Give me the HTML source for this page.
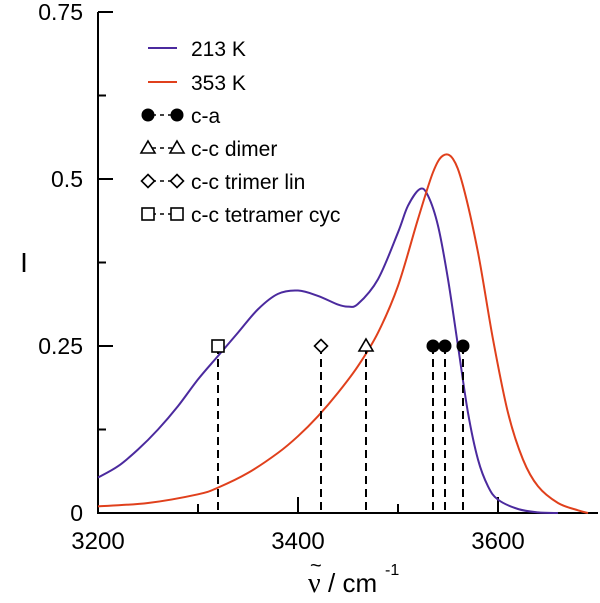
<!DOCTYPE html>
<html><head><meta charset="utf-8"><style>
html,body{margin:0;padding:0;background:#fff;}
svg{display:block;font-family:"Liberation Sans",sans-serif;}
</style></head><body>
<svg id="c" width="600" height="603"></svg>
<script>
const purpleX=[3200,3220,3240,3260,3280,3300,3320,3340,3360,3380,3400,3420,3440,3450,3460,3480,3500,3510,3522,3530,3540,3550,3560,3570,3580,3590,3600,3620,3640,3660];
const purpleY=[.053,.07,.095,.125,.16,.2,.235,.27,.305,.328,.333,.325,.312,.309,.313,.35,.42,.46,.485,.475,.43,.35,.25,.15,.08,.04,.02,.006,.001,0];
const redX=[3200,3250,3300,3320,3350,3380,3400,3420,3440,3460,3480,3500,3520,3535,3545,3555,3565,3580,3595,3610,3625,3640,3660,3680,3690];
const redY=[.01,.015,.028,.038,.06,.09,.115,.145,.18,.22,.27,.34,.44,.51,.535,.53,.49,.39,.26,.15,.08,.04,.015,.004,0];
const stickX=[3320,3423,3468,3535,3547,3565];
const stickType=['square','diamond','triangle','circle','circle','circle'];
const stickY=[0.25,0.25,0.25,0.25,0.25,0.25];
const xTicks=[3200,3400,3600];
const xMinor=[3300,3500];
const yTicks=[0,0.25,0.5,0.75];
const yTickLabels=['0','0.25','0.5','0.75'];
const yMinor=[0.125,0.375,0.625];

const NS='http://www.w3.org/2000/svg';
const svg=document.getElementById('c');
const X0=98,X1=598,Y0=513,Y1=12;
const sx=v=>X0+(v-3200)/(3700-3200)*(X1-X0);
const sy=v=>Y0-(v/0.75)*(Y0-Y1);
function el(t,a,p){const e=document.createElementNS(NS,t);for(const k in a)e.setAttribute(k,a[k]);(p||svg).appendChild(e);return e;}

function smooth(xs,ys){const p=xs.map((x,i)=>[sx(x),sy(ys[i])]);let d='M'+p[0][0]+','+p[0][1];
for(let i=0;i<p.length-1;i++){const p0=p[i-1]||p[i],p1=p[i],p2=p[i+1],p3=p[i+2]||p2;
d+=` C${p1[0]+(p2[0]-p0[0])/6},${p1[1]+(p2[1]-p0[1])/6} ${p2[0]-(p3[0]-p1[0])/6},${p2[1]-(p3[1]-p1[1])/6} ${p2[0]},${p2[1]}`;}return d;}

let a=el('path',{d:`M${X0},${Y1} V${Y0} H${X1}`,stroke:'#000','stroke-width':2,fill:'none'});

xTicks.forEach(v=>{let t=el('line',{x1:sx(v),x2:sx(v),y1:Y0,y2:Y0-16,stroke:'#000','stroke-width':2});

let l=el('text',{x:sx(v),y:Y0+36,'font-size':24,'text-anchor':'middle'});l.textContent=v;
});
xMinor.forEach(v=>{let t=el('line',{x1:sx(v),x2:sx(v),y1:Y0,y2:Y0-9,stroke:'#000','stroke-width':2});
});
yTicks.forEach((v,i)=>{let t=el('line',{x1:X0,x2:X0+15,y1:sy(v),y2:sy(v),stroke:'#000','stroke-width':2});

let l=el('text',{x:83,y:sy(v)+8,'font-size':23,'text-anchor':'end'});l.textContent=yTickLabels[i];
});
yMinor.forEach(v=>{let t=el('line',{x1:X0,x2:X0+8,y1:sy(v),y2:sy(v),stroke:'#000','stroke-width':2});
});

let pc=el('path',{d:smooth(purpleX,purpleY),stroke:'#4b2a9e','stroke-width':2,fill:'none'});

let rc=el('path',{d:smooth(redX,redY),stroke:'#e0401c','stroke-width':2,fill:'none'});


function marker(type,x,y,g){
 if(type==='circle')return el('circle',{cx:x,cy:y,r:6.5,fill:'#000'},g);
 if(type==='square')return el('rect',{x:x-6,y:y-6,width:12,height:12,fill:'#fff',stroke:'#000','stroke-width':1.6},g);
 if(type==='diamond')return el('path',{d:`M${x},${y-6.5}L${x+6.5},${y}L${x},${y+6.5}L${x-6.5},${y}Z`,fill:'#fff',stroke:'#000','stroke-width':1.6},g);
 return el('path',{d:`M${x},${y-7}L${x+7},${y+5}L${x-7},${y+5}Z`,fill:'#fff',stroke:'#000','stroke-width':1.6},g);
}
stickX.forEach((v,i)=>{let d=el('line',{x1:sx(v),x2:sx(v),y1:sy(stickY[i]),y2:Y0,stroke:'#000','stroke-width':2,'stroke-dasharray':'8,5'});

let m=marker(stickType[i],sx(v),sy(stickY[i]));
});

const lg=el('g',{});
[['#4b2a9e','213 K',48],['#e0401c','353 K',82]].forEach(r=>{
 let g=el('g',{},lg);
 el('line',{x1:148,x2:177,y1:r[2],y2:r[2],stroke:r[0],'stroke-width':2},g);
 let t=el('text',{x:191,y:r[2]+8,'font-size':21},g);t.textContent=r[1];});
[['circle','c-a',115],['triangle','c-c dimer',148],['diamond','c-c trimer lin',181],['square','c-c tetramer cyc',214]].forEach(r=>{
 let g=el('g',{},lg);
 el('line',{x1:152,x2:174,y1:r[2],y2:r[2],stroke:'#000','stroke-width':1.5,'stroke-dasharray':'4,4'},g);
 marker(r[0],148,r[2],g);marker(r[0],177,r[2],g);
 let t=el('text',{x:191,y:r[2]+8,'font-size':21},g);t.textContent=r[1];});

let yt=el('text',{x:24,y:272,'font-size':28,'text-anchor':'middle'});yt.textContent='I';

const xtg=el('g',{});
let nu=el('text',{x:308,y:592,'font-size':28,'font-family':'"Liberation Serif",serif'},xtg);nu.textContent='ν';
let til=el('text',{x:310,y:572,'font-size':20},xtg);til.textContent='~';
let cm=el('text',{x:328,y:592,'font-size':26},xtg);cm.textContent='/ cm';
let sup=el('text',{x:385,y:575,'font-size':16},xtg);sup.textContent='-1';
</script>
</body></html>
